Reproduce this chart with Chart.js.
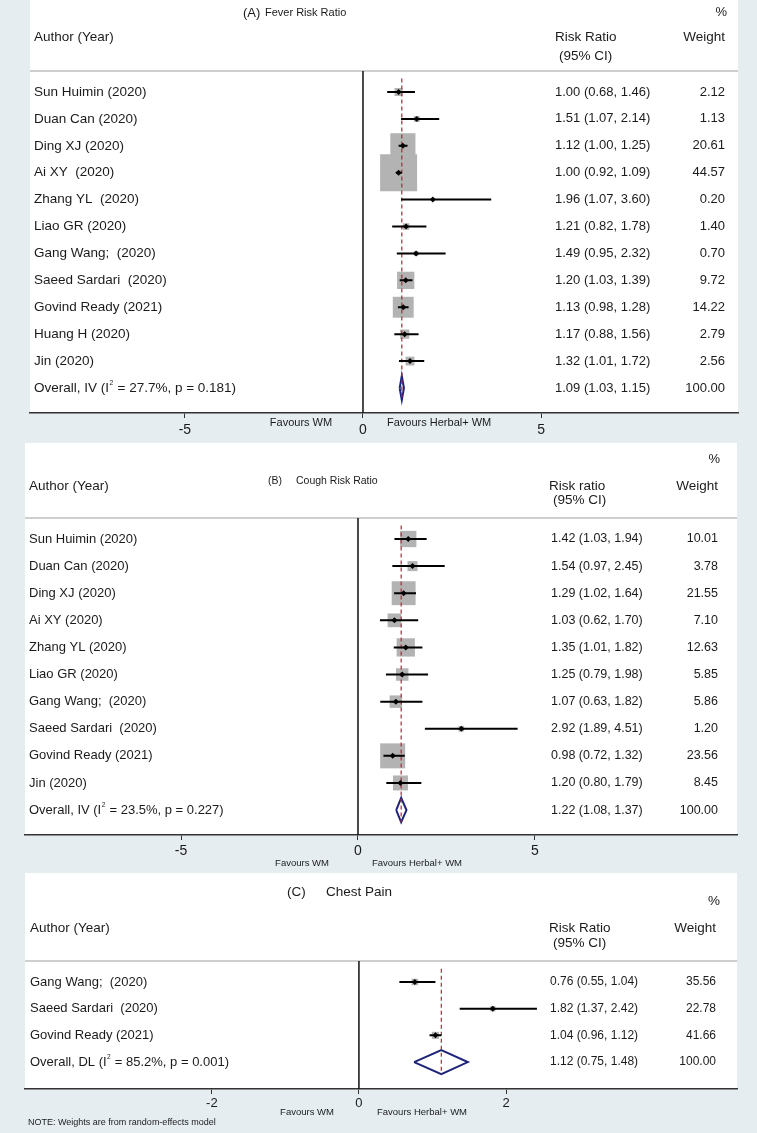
<!DOCTYPE html>
<html>
<head>
<meta charset="utf-8">
<script src="https://cdn.jsdelivr.net/npm/chart.js@4"></script>
<style>
  html, body { margin: 0; padding: 0; background: #fff; }
  #page { position: relative; width: 757px; height: 1133px; overflow: hidden; }
  canvas { position: absolute; left: 0; }
</style>
</head>
<body>
<div id="page">
  <canvas id="chartA" width="757" height="443" style="top:0px"></canvas>
  <canvas id="chartB" width="757" height="430" style="top:443px"></canvas>
  <canvas id="chartC" width="757" height="260" style="top:873px"></canvas>
</div>
<script>
// --- DATA: (A) Fever ---
const studiesA = ["Sun Huimin (2020)", "Duan Can (2020)", "Ding XJ (2020)", "Ai XY  (2020)", "Zhang YL  (2020)",
    "Liao GR (2020)", "Gang Wang;  (2020)", "Saeed Sardari  (2020)", "Govind Ready (2021)", "Huang H (2020)", "Jin (2020)"];
const rrA = [1.00, 1.51, 1.12, 1.00, 1.96, 1.21, 1.49, 1.20, 1.13, 1.17, 1.32];
const loA = [0.68, 1.07, 1.00, 0.92, 1.07, 0.82, 0.95, 1.03, 0.98, 0.88, 1.01];
const hiA = [1.46, 2.14, 1.25, 1.09, 3.60, 1.78, 2.32, 1.39, 1.28, 1.56, 1.72];
const weightsA = [2.12, 1.13, 20.61, 44.57, 0.20, 1.40, 0.70, 9.72, 14.22, 2.79, 2.56];
const overallA = [1.09, 1.03, 1.15];
const hetA = ["IV", "27.7", "0.181"];
const ticksA = [-5, 0, 5];

// --- DATA: (B) Cough ---
const studiesB = ["Sun Huimin (2020)", "Duan Can (2020)", "Ding XJ (2020)", "Ai XY (2020)", "Zhang YL (2020)",
    "Liao GR (2020)", "Gang Wang;  (2020)", "Saeed Sardari  (2020)", "Govind Ready (2021)", "Jin (2020)"];
const rrB = [1.42, 1.54, 1.29, 1.03, 1.35, 1.25, 1.07, 2.92, 0.98, 1.20];
const loB = [1.03, 0.97, 1.02, 0.62, 1.01, 0.79, 0.63, 1.89, 0.72, 0.80];
const hiB = [1.94, 2.45, 1.64, 1.70, 1.82, 1.98, 1.82, 4.51, 1.32, 1.79];
const weightsB = [10.01, 3.78, 21.55, 7.10, 12.63, 5.85, 5.86, 1.20, 23.56, 8.45];
const overallB = [1.22, 1.08, 1.37];
const hetB = ["IV", "23.5", "0.227"];
const ticksB = [-5, 0, 5];

// --- DATA: (C) Chest pain ---
const studiesC = ["Gang Wang;  (2020)", "Saeed Sardari  (2020)", "Govind Ready (2021)"];
const rrC = [0.76, 1.82, 1.04];
const loC = [0.55, 1.37, 0.96];
const hiC = [1.04, 2.42, 1.12];
const weightsC = [35.56, 22.78, 41.66];
const overallC = [1.12, 0.75, 1.48];
const hetC = ["DL", "85.2", "0.001"];
const ticksC = [-2, 0, 2];

// --- STYLE ---
const FONT = '"Liberation Sans", Arial, Helvetica, sans-serif';
const INK = '#1b1b1b';
const FRAME = '#e5edf1';
const BOX = '#b3b3b3';
const MAROON = '#93353d';
const NAVY = '#1d2379';

const fmt = v => v.toFixed(2);

const text = (ctx, str, x, y, size, align) => {
    ctx.font = size + 'px ' + FONT;
    ctx.textAlign = align || 'left';
    ctx.textBaseline = 'middle';
    ctx.fillStyle = INK;
    ctx.fillText(str, x, y);
    return ctx.measureText(str).width;
};

const overallLabel = (ctx, het, x, y, size) => {
    let w = text(ctx, 'Overall, ' + het[0] + ' (I', x, y, size);
    w += text(ctx, '2', x + w + 0.5, y - size * 0.38, size * 0.5) + 1;
    text(ctx, ' = ' + het[1] + '%, p = ' + het[2] + ')', x + w, y, size);
};

const makeForest = (id, p) => {
    const n = p.studies.length;
    const rows = p.studies.map((s, i) => i);
    const [ovRR, ovLo, ovHi] = p.overall;
    const h = 0.45; // half height of the pooled diamond, in rows

    // CI segments in one line dataset, split by null points
    const ciPts = [];
    rows.forEach(i => ciPts.push({ x: p.lo[i], y: i }, { x: p.hi[i], y: i }, { x: null, y: null }));

    const lay = p.layout;
    const textPlugin = {
        id: 'forestText',
        beforeDraw(chart) {
            const { ctx, chartArea: a, width, height } = chart;
            ctx.save();
            ctx.fillStyle = FRAME;
            ctx.fillRect(0, 0, width, height);
            ctx.fillStyle = '#fff';
            ctx.fillRect(a.left, 0, a.right - a.left, a.bottom);
            ctx.strokeStyle = '#cfcfcf';
            ctx.lineWidth = 2;
            ctx.beginPath();
            ctx.moveTo(a.left, a.top);
            ctx.lineTo(a.right, a.top);
            ctx.stroke();
            ctx.restore();
        },
        afterDraw(chart) {
            const ctx = chart.ctx;
            const ys = chart.scales.y;
            ctx.save();
            lay.title.forEach(t => text(ctx, t[0], t[1], t[2], t[3]));
            text(ctx, '%', lay.pct[0], lay.pct[1], lay.pct[2], 'right');
            text(ctx, 'Author (Year)', lay.head[0], lay.head[2], lay.headSize);
            text(ctx, p.rrTitle, lay.head[1], lay.head[2], lay.headSize);
            text(ctx, '(95% CI)', lay.head[1] + 4, lay.head[3], lay.headSize);
            text(ctx, 'Weight', lay.weightX, lay.head[2], lay.headSize, 'right');
            rows.forEach(i => {
                const y = ys.getPixelForValue(i);
                text(ctx, p.studies[i], lay.labelX, y, lay.labelSize);
                text(ctx, `${fmt(p.rr[i])} (${fmt(p.lo[i])}, ${fmt(p.hi[i])})`, lay.valueX, y, lay.valueSize);
                text(ctx, fmt(p.weights[i]), lay.weightX, y, lay.valueSize, 'right');
            });
            const yo = ys.getPixelForValue(n);
            overallLabel(ctx, p.het, lay.labelX, yo, lay.labelSize);
            text(ctx, `${fmt(ovRR)} (${fmt(ovLo)}, ${fmt(ovHi)})`, lay.valueX, yo, lay.valueSize);
            text(ctx, '100.00', lay.weightX, yo, lay.valueSize, 'right');
            const f = lay.favours;
            text(ctx, 'Favours WM', f[1], f[0], f[3], 'center');
            text(ctx, 'Favours Herbal+ WM', f[2], f[0], f[3]);
            if (lay.note) text(ctx, 'NOTE: Weights are from random-effects model', lay.note[0], lay.note[1], lay.note[2]);
            ctx.restore();
        }
    };

    return new Chart(document.getElementById(id), {
        type: 'scatter',
        data: {
            datasets: [
                { type: 'scatter', data: rows.map(i => ({ x: p.rr[i], y: i })), pointStyle: 'rectRot', pointRadius: 3,
                  backgroundColor: '#000', borderWidth: 0, order: 1 },
                { type: 'line', data: ciPts, borderColor: '#000', borderWidth: 2, pointRadius: 0, spanGaps: false, order: 2 },
                { type: 'line', data: [{ x: ovRR, y: -0.5 }, { x: ovRR, y: n + h }], borderColor: MAROON, borderWidth: 1.2,
                  borderDash: [4, 3], pointRadius: 0, order: 3 },
                { type: 'line', data: [{ x: ovLo, y: n }, { x: ovRR, y: n - h }, { x: ovHi, y: n }, { x: ovRR, y: n + h }, { x: ovLo, y: n }],
                  borderColor: NAVY, borderWidth: 2, borderJoinStyle: 'miter', fill: false, pointRadius: 0, order: 4 },
                { type: 'line', data: [{ x: 0, y: p.yRange[0] }, { x: 0, y: p.yRange[1] }], borderColor: '#111', borderWidth: 1.5,
                  pointRadius: 0, order: 5 },
                { type: 'scatter', data: rows.map(i => ({ x: p.rr[i], y: i })), pointStyle: 'rect',
                  pointRadius: p.weights.map(w => p.boxScale * Math.sqrt(w) / Math.SQRT2), backgroundColor: BOX, borderWidth: 0, order: 6 }
            ]
        },
        options: {
            responsive: false,
            maintainAspectRatio: false,
            devicePixelRatio: 1,
            animation: false,
            events: [],
            layout: { padding: p.padding, autoPadding: false },
            plugins: { legend: { display: false }, tooltip: { enabled: false } },
            scales: {
                x: {
                    type: 'linear', min: p.xRange[0], max: p.xRange[1],
                    afterBuildTicks: s => { s.ticks = p.ticks.map(v => ({ value: v })); },
                    afterFit: s => { s.height = 30; s.paddingLeft = 0; s.paddingRight = 0; },
                    grid: { drawOnChartArea: false, drawTicks: true, tickLength: 5, color: '#333', lineWidth: 1 },
                    border: { display: true, color: '#333', width: 1.5 },
                    ticks: { font: { family: FONT, size: p.tickSize }, color: INK, padding: p.tickPad,
                             maxRotation: 0, autoSkip: false, callback: v => String(v) }
                },
                y: { type: 'linear', reverse: true, min: p.yRange[0], max: p.yRange[1], display: false }
            }
        },
        plugins: [textPlugin]
    });
};

makeForest('chartA', {
    studies: studiesA, rr: rrA, lo: loA, hi: hiA, weights: weightsA, overall: overallA, het: hetA, ticks: ticksA,
    rrTitle: 'Risk Ratio', xRange: [-9.35, 10.53], yRange: [-0.78, 11.93], boxScale: 5.54,
    padding: { left: 30, right: 19, top: 71, bottom: 0 }, tickSize: 14, tickPad: 4,
    layout: {
        title: [['(A)', 243, 13, 13], ['Fever Risk Ratio', 265, 13, 11]], pct: [727, 12, 13],
        head: [34, 555, 37, 56], headSize: 13.5, labelX: 34, valueX: 555, weightX: 725,
        labelSize: 13.5, valueSize: 13, favours: [423, 301, 387, 11]
    }
});

makeForest('chartB', {
    studies: studiesB, rr: rrB, lo: loB, hi: hiB, weights: weightsB, overall: overallB, het: hetB, ticks: ticksB,
    rrTitle: 'Risk ratio', xRange: [-9.41, 10.71], yRange: [-0.775, 10.92], boxScale: 5.15,
    padding: { left: 25, right: 20, top: 75, bottom: 8 }, tickSize: 14, tickPad: 3,
    layout: {
        title: [['(B)', 268, 38, 10.5], ['Cough Risk Ratio', 296, 38, 10.5]], pct: [720, 16, 13],
        head: [29, 549, 43, 57], headSize: 13.5, labelX: 29, valueX: 551, weightX: 718,
        labelSize: 13, valueSize: 12.5, favours: [420, 302, 372, 9.5]
    }
});

makeForest('chartC', {
    studies: studiesC, rr: rrC, lo: loC, hi: hiC, weights: weightsC, overall: overallC, het: hetC, ticks: ticksC,
    rrTitle: 'Risk Ratio', xRange: [-4.54, 5.14], yRange: [-0.787, 4.01], boxScale: 1.1,
    padding: { left: 25, right: 20, top: 88, bottom: 14 }, tickSize: 13, tickPad: 2,
    layout: {
        title: [['(C)', 287, 19, 13.5], ['Chest Pain', 326, 19, 13.5]], pct: [720, 28, 13.5],
        head: [30, 549, 55, 70], headSize: 13.5, labelX: 30, valueX: 550, weightX: 716,
        labelSize: 13, valueSize: 12, favours: [239, 307, 377, 9.5], note: [28, 250, 9]
    }
});
</script>
</body>
</html>
